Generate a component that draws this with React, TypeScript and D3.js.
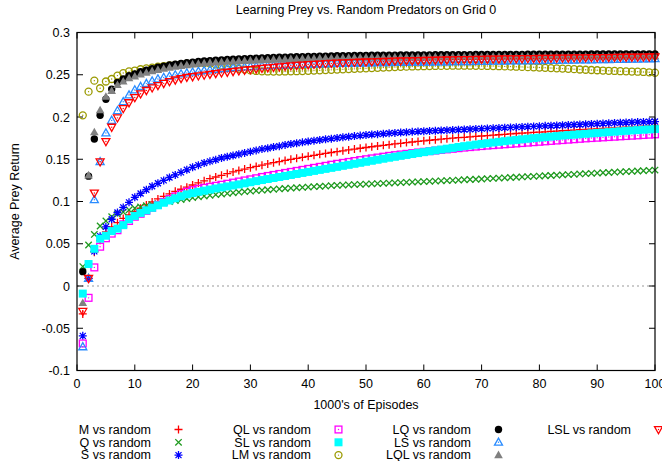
import * as d3 from "d3";

// 1000's of episodes, one sample per thousand
const episodes = d3.range(1, 101);

const mVsRandom = [
  -0.033, 0.009, 0.04, 0.054, 0.064, 0.07, 0.075, 0.08, 0.084, 0.088,
  0.092, 0.096, 0.0995, 0.103, 0.106, 0.109, 0.112, 0.1145, 0.117, 0.1195,
  0.122, 0.1245, 0.127, 0.129, 0.131, 0.133, 0.135, 0.1367, 0.1384, 0.14,
  0.1415, 0.143, 0.1445, 0.1459, 0.1473, 0.1486, 0.1499, 0.1511, 0.1523, 0.1535,
  0.1547, 0.1558, 0.1569, 0.158, 0.159, 0.16, 0.161, 0.162, 0.163, 0.1639,
  0.1648, 0.1657, 0.1665, 0.1673, 0.1681, 0.1689, 0.1697, 0.1704, 0.1711, 0.1718,
  0.1725, 0.1731, 0.1737, 0.1743, 0.1749, 0.1755, 0.176, 0.1765, 0.177, 0.1775,
  0.178, 0.1785, 0.179, 0.1795, 0.18, 0.1805, 0.1809, 0.1813, 0.1817, 0.1821,
  0.1825, 0.1829, 0.1833, 0.1837, 0.1841, 0.1845, 0.1849, 0.1853, 0.1857, 0.186,
  0.1864, 0.1868, 0.1872, 0.1876, 0.188, 0.1884, 0.1888, 0.1892, 0.1896, 0.19,
];

const qVsRandom = [
  0.023, 0.0485, 0.061, 0.071, 0.077, 0.082, 0.085, 0.0875, 0.09, 0.092,
  0.0935, 0.095, 0.0963, 0.0975, 0.0987, 0.0999, 0.1011, 0.1023, 0.1034, 0.1045,
  0.1055, 0.1064, 0.1073, 0.1081, 0.1089, 0.1096, 0.1103, 0.111, 0.1116, 0.1122,
  0.1128, 0.1134, 0.1139, 0.1144, 0.1149, 0.1154, 0.1159, 0.1163, 0.1167, 0.1171,
  0.1175, 0.1179, 0.1183, 0.1187, 0.1191, 0.1194, 0.1197, 0.12, 0.1203, 0.1206,
  0.1209, 0.1212, 0.1215, 0.1218, 0.1221, 0.1224, 0.1227, 0.123, 0.1233, 0.1236,
  0.1239, 0.1242, 0.1245, 0.1248, 0.1251, 0.1254, 0.1257, 0.126, 0.1263, 0.1266,
  0.127, 0.1273, 0.1277, 0.128, 0.1284, 0.1287, 0.1291, 0.1294, 0.1298, 0.1301,
  0.1305, 0.1308, 0.1312, 0.1315, 0.1319, 0.1322, 0.1326, 0.1329, 0.1333, 0.1336,
  0.134, 0.1343, 0.1347, 0.135, 0.1354, 0.1357, 0.1361, 0.1364, 0.1368, 0.1372,
];

const sVsRandom = [
  -0.059, 0.009, 0.041, 0.059, 0.07, 0.079, 0.087, 0.093, 0.099, 0.105,
  0.1095, 0.114, 0.118, 0.1215, 0.125, 0.1285, 0.1315, 0.1345, 0.1375, 0.1405,
  0.143, 0.1455, 0.1475, 0.1495, 0.1515, 0.153, 0.1545, 0.156, 0.1575, 0.159,
  0.1605, 0.162, 0.163, 0.1645, 0.1655, 0.167, 0.168, 0.169, 0.17, 0.171,
  0.172, 0.1728, 0.1736, 0.1744, 0.1752, 0.176, 0.1767, 0.1774, 0.178, 0.1786,
  0.1792, 0.1797, 0.1802, 0.1807, 0.1812, 0.1816, 0.182, 0.1824, 0.1828, 0.1832,
  0.1835, 0.1838, 0.1841, 0.1844, 0.1847, 0.185, 0.1853, 0.1856, 0.1859, 0.1862,
  0.1865, 0.1868, 0.1871, 0.1874, 0.1877, 0.188, 0.1883, 0.1886, 0.1889, 0.1892,
  0.1895, 0.1897, 0.19, 0.1903, 0.1906, 0.1909, 0.1912, 0.1915, 0.1918, 0.1921,
  0.1924, 0.1927, 0.193, 0.1932, 0.1935, 0.1937, 0.194, 0.1942, 0.1944, 0.1946,
];

const qlVsRandom = [
  -0.068, -0.014, 0.022, 0.0465, 0.0565, 0.062, 0.066, 0.073, 0.077, 0.082,
  0.0855, 0.089, 0.0925, 0.096, 0.0995, 0.103, 0.106, 0.109, 0.1115, 0.1135,
  0.115, 0.1162, 0.1174, 0.1186, 0.1198, 0.121, 0.1223, 0.1236, 0.1249, 0.1262,
  0.1275, 0.129, 0.1302, 0.1314, 0.1326, 0.1338, 0.135, 0.1362, 0.1374, 0.1386,
  0.1398, 0.141, 0.1422, 0.1435, 0.1446, 0.1457, 0.1468, 0.1479, 0.149, 0.15,
  0.151, 0.152, 0.153, 0.154, 0.1548, 0.1556, 0.1564, 0.1572, 0.158, 0.1588,
  0.1596, 0.1603, 0.161, 0.1617, 0.1624, 0.1631, 0.1638, 0.1644, 0.165, 0.1656,
  0.1662, 0.1667, 0.1672, 0.1677, 0.1682, 0.1687, 0.1692, 0.1697, 0.1702, 0.1707,
  0.1712, 0.1717, 0.1722, 0.1727, 0.1732, 0.1737, 0.1742, 0.1747, 0.1751, 0.1755,
  0.1759, 0.1763, 0.1767, 0.1771, 0.1775, 0.1779, 0.1783, 0.1787, 0.1791, 0.1795,
];

const slVsRandom = [
  -0.009, 0.026, 0.044, 0.056, 0.0595, 0.065, 0.068, 0.072, 0.079, 0.083,
  0.0865, 0.0895, 0.0925, 0.0955, 0.0985, 0.1012, 0.1038, 0.1062, 0.1085, 0.11,
  0.1115, 0.1128, 0.1141, 0.1154, 0.1166, 0.1178, 0.119, 0.1202, 0.1215, 0.1228,
  0.1241, 0.1254, 0.1266, 0.1278, 0.129, 0.1302, 0.1314, 0.1326, 0.1338, 0.135,
  0.1362, 0.1374, 0.1386, 0.1398, 0.141, 0.1422, 0.1434, 0.1446, 0.1458, 0.147,
  0.1482, 0.1494, 0.1506, 0.1518, 0.1529, 0.154, 0.1551, 0.1562, 0.1573, 0.1584,
  0.1595, 0.1605, 0.1615, 0.1625, 0.1635, 0.1645, 0.1655, 0.1664, 0.1673, 0.1682,
  0.169, 0.1698, 0.1706, 0.1714, 0.1722, 0.1729, 0.1736, 0.1743, 0.175, 0.1756,
  0.1762, 0.1768, 0.1774, 0.178, 0.1786, 0.1791, 0.1796, 0.1801, 0.1806, 0.1811,
  0.1816, 0.1821, 0.1826, 0.1831, 0.1836, 0.1841, 0.1845, 0.1849, 0.1853, 0.1857,
];

const lmVsRandom = [
  0.202, 0.23, 0.243, 0.234, 0.242, 0.245, 0.249, 0.252, 0.254, 0.255,
  0.2565, 0.2575, 0.2585, 0.2595, 0.2603, 0.261, 0.2618, 0.2625, 0.263, 0.2635,
  0.2638, 0.2637, 0.2632, 0.2622, 0.261, 0.2597, 0.2584, 0.2571, 0.256, 0.2551,
  0.2545, 0.2541, 0.2539, 0.2538, 0.2538, 0.2539, 0.254, 0.2542, 0.2544, 0.2546,
  0.2549, 0.2552, 0.2555, 0.2558, 0.2561, 0.2564, 0.2567, 0.257, 0.2573, 0.2576,
  0.2579, 0.2582, 0.2585, 0.2588, 0.2591, 0.2594, 0.2596, 0.2598, 0.26, 0.2601,
  0.2603, 0.2604, 0.2605, 0.2606, 0.2607, 0.2607, 0.2607, 0.2607, 0.2606, 0.2605,
  0.2604, 0.2603, 0.2601, 0.2599, 0.2597, 0.2595, 0.2593, 0.259, 0.2588, 0.2585,
  0.2582, 0.2579, 0.2576, 0.2573, 0.257, 0.2566, 0.2562, 0.2559, 0.2556, 0.2553,
  0.255, 0.2547, 0.2545, 0.2542, 0.254, 0.2538, 0.2536, 0.2533, 0.2529, 0.2524,
];

const lqVsRandom = [
  0.017, 0.13, 0.174, 0.202, 0.221, 0.233, 0.241, 0.245, 0.249, 0.251,
  0.2535, 0.2555, 0.2572, 0.2588, 0.2602, 0.2615, 0.2625, 0.2635, 0.2643, 0.265,
  0.2656, 0.2662, 0.2667, 0.2672, 0.2676, 0.268, 0.2684, 0.2688, 0.2691, 0.2694,
  0.2697, 0.27, 0.2702, 0.2705, 0.2707, 0.2709, 0.2711, 0.2713, 0.2715, 0.2717,
  0.2718, 0.272, 0.2721, 0.2722, 0.2724, 0.2725, 0.2726, 0.2727, 0.2728, 0.2729,
  0.273, 0.273, 0.2731, 0.2731, 0.2732, 0.2733, 0.2733, 0.2734, 0.2734, 0.2735,
  0.2735, 0.2736, 0.2736, 0.2737, 0.2737, 0.2737, 0.2738, 0.2738, 0.2739, 0.2739,
  0.2739, 0.274, 0.274, 0.274, 0.2741, 0.2741, 0.2741, 0.2742, 0.2742, 0.2742,
  0.2743, 0.2743, 0.2743, 0.2743, 0.2744, 0.2744, 0.2744, 0.2744, 0.2745, 0.2745,
  0.2745, 0.2745, 0.2746, 0.2746, 0.2746, 0.2746, 0.2747, 0.2747, 0.2747, 0.2747,
];

const lsVsRandom = [
  -0.072, 0.009, 0.102, 0.147, 0.181, 0.196, 0.2075, 0.218, 0.226, 0.232,
  0.236, 0.2395, 0.2425, 0.245, 0.2468, 0.2483, 0.2497, 0.251, 0.2521, 0.2531,
  0.254, 0.2549, 0.2557, 0.2564, 0.257, 0.2576, 0.2582, 0.2587, 0.2592, 0.2596,
  0.26, 0.2604, 0.2607, 0.261, 0.2613, 0.2616, 0.2618, 0.2621, 0.2623, 0.2625,
  0.2627, 0.2629, 0.263, 0.2632, 0.2633, 0.2635, 0.2636, 0.2637, 0.2638, 0.264,
  0.2641, 0.2642, 0.2643, 0.2644, 0.2645, 0.2646, 0.2647, 0.2648, 0.2648, 0.2649,
  0.265, 0.2651, 0.2652, 0.2652, 0.2653, 0.2654, 0.2655, 0.2655, 0.2656, 0.2657,
  0.2658, 0.2659, 0.266, 0.2661, 0.2662, 0.2663, 0.2664, 0.2665, 0.2666, 0.2667,
  0.2668, 0.2669, 0.267, 0.2671, 0.2672, 0.2673, 0.2674, 0.2675, 0.2676, 0.2677,
  0.2678, 0.2679, 0.268, 0.2681, 0.2682, 0.2683, 0.2684, 0.2686, 0.2688, 0.269,
];

const lqlVsRandom = [
  -0.02, 0.131, 0.182, 0.208, 0.224, 0.231, 0.238, 0.242, 0.246, 0.248,
  0.2505, 0.2525, 0.2543, 0.2558, 0.2572, 0.2585, 0.2596, 0.2606, 0.2615, 0.2623,
  0.263, 0.2636, 0.2641, 0.2646, 0.265, 0.2654, 0.2658, 0.2662, 0.2665, 0.2668,
  0.2671, 0.2674, 0.2676, 0.2679, 0.2681, 0.2683, 0.2685, 0.2687, 0.2689, 0.2691,
  0.2692, 0.2694, 0.2695, 0.2696, 0.2698, 0.2699, 0.27, 0.2701, 0.2702, 0.2703,
  0.2704, 0.2704, 0.2705, 0.2705, 0.2706, 0.2707, 0.2707, 0.2708, 0.2708, 0.2709,
  0.2709, 0.271, 0.271, 0.2711, 0.2711, 0.2711, 0.2712, 0.2712, 0.2712, 0.2713,
  0.2713, 0.2713, 0.2714, 0.2714, 0.2714, 0.2714, 0.2715, 0.2715, 0.2715, 0.2715,
  0.2716, 0.2716, 0.2716, 0.2716, 0.2717, 0.2717, 0.2717, 0.2717, 0.2717, 0.2718,
  0.2718, 0.2718, 0.2718, 0.2718, 0.2719, 0.2719, 0.2719, 0.2719, 0.2719, 0.272,
];

const lslVsRandom = [
  -0.03, 0.009, 0.11, 0.147, 0.171, 0.188, 0.199, 0.21, 0.217, 0.223,
  0.2275, 0.2315, 0.2345, 0.2373, 0.2398, 0.242, 0.2439, 0.2456, 0.2471, 0.2478,
  0.2488, 0.2497, 0.2506, 0.2515, 0.2523, 0.2531, 0.2539, 0.2547, 0.2555, 0.2562,
  0.2569, 0.2576, 0.2583, 0.2589, 0.2595, 0.2601, 0.2606, 0.2611, 0.2616, 0.262,
  0.2624, 0.2628, 0.2632, 0.2635, 0.2638, 0.2641, 0.2644, 0.2647, 0.2649, 0.2652,
  0.2654, 0.2656, 0.2658, 0.266, 0.2662, 0.2664, 0.2666, 0.2667, 0.2669, 0.267,
  0.2672, 0.2673, 0.2675, 0.2676, 0.2677, 0.2679, 0.268, 0.2681, 0.2682, 0.2684,
  0.2685, 0.2686, 0.2687, 0.2688, 0.2689, 0.269, 0.2691, 0.2692, 0.2693, 0.2694,
  0.2695, 0.2696, 0.2697, 0.2698, 0.2699, 0.27, 0.2701, 0.2702, 0.2703, 0.2703,
  0.2704, 0.2705, 0.2706, 0.2707, 0.2708, 0.2708, 0.2709, 0.271, 0.2711, 0.2712,
];

const xTicks = [0, 10, 20, 30, 40, 50, 60, 70, 80, 90, 100];
const yTicks = [-0.1, -0.05, 0, 0.05, 0.1, 0.15, 0.2, 0.25, 0.3];
const yTickLabels = ["-0.1", "-0.05", "0", "0.05", "0.1", "0.15", "0.2", "0.25", "0.3"];

type Shape = "plus" | "cross" | "star" | "box" | "boxFill" | "circle" | "circleFill" | "tri" | "triFill" | "triDown";

const series: { name: string; values: number[]; color: string; shape: Shape }[] = [
  { name: "M vs random", values: mVsRandom, color: "#ff0000", shape: "plus" },
  { name: "Q vs random", values: qVsRandom, color: "#1f9a1f", shape: "cross" },
  { name: "S vs random", values: sVsRandom, color: "#0000ff", shape: "star" },
  { name: "QL vs random", values: qlVsRandom, color: "#ff00ff", shape: "box" },
  { name: "SL vs random", values: slVsRandom, color: "#00ffff", shape: "boxFill" },
  { name: "LM vs random", values: lmVsRandom, color: "#9a9a00", shape: "circle" },
  { name: "LQ vs random", values: lqVsRandom, color: "#000000", shape: "circleFill" },
  { name: "LS vs random", values: lsVsRandom, color: "#2a8cff", shape: "tri" },
  { name: "LQL vs random", values: lqlVsRandom, color: "#808080", shape: "triFill" },
  { name: "LSL vs random", values: lslVsRandom, color: "#ff0000", shape: "triDown" },
];

const W = 662, H = 461;
const left = 77, right = 655, top = 32.5, bottom = 370.5;
const font = "'Liberation Sans', Arial, sans-serif";

const x = d3.scaleLinear().domain([0, 100]).range([left, right]);
const y = d3.scaleLinear().domain([-0.1, 0.3]).range([bottom, top]);

function Marker({ cx, cy, shape, color }: { cx: number; cy: number; shape: Shape; color: string }) {
  const t = `translate(${cx},${cy})`;
  const sw = 1.3;
  const dot = <circle r={0.7} fill={color} />;
  switch (shape) {
    case "plus":
      return <path transform={t} d="M-4,0H4M0,-4V4" stroke={color} strokeWidth={sw} fill="none" />;
    case "cross":
      return <path transform={t} d="M-3.2,-3.2L3.2,3.2M-3.2,3.2L3.2,-3.2" stroke={color} strokeWidth={sw} fill="none" />;
    case "star":
      return <path transform={t} d="M-4,0H4M0,-4V4M-3,-3L3,3M-3,3L3,-3" stroke={color} strokeWidth={sw} fill="none" />;
    case "box":
      return (
        <g transform={t}>
          <rect x={-3.4} y={-3.4} width={6.8} height={6.8} stroke={color} strokeWidth={sw} fill="none" />
          {dot}
        </g>
      );
    case "boxFill":
      return <rect transform={t} x={-4} y={-4} width={8} height={8} fill={color} />;
    case "circle":
      return (
        <g transform={t}>
          <circle r={3.5} stroke={color} strokeWidth={sw} fill="none" />
          {dot}
        </g>
      );
    case "circleFill":
      return <circle transform={t} r={3.7} fill={color} />;
    case "tri":
      return (
        <g transform={t}>
          <path d="M0,-4.2L4,2.9H-4Z" stroke={color} strokeWidth={sw} fill="none" />
          {dot}
        </g>
      );
    case "triFill":
      return <path transform={t} d="M0,-4.5L4.3,3.1H-4.3Z" fill={color} />;
    case "triDown":
      return (
        <g transform={t}>
          <path d="M0,4.2L4,-2.9H-4Z" stroke={color} strokeWidth={sw} fill="none" />
          {dot}
        </g>
      );
  }
}

export default function App() {
  return (
    <svg width={W} height={H} style={{ position: "absolute", left: 0, top: 0, background: "#fff" }} fontFamily={font}>
      <rect width={W} height={H} fill="#fff" />
      <text x={(left + right) / 2} y={14} textAnchor="middle" fontSize={12.5}>
        Learning Prey vs. Random Predators on Grid 0
      </text>

      {/* zero line */}
      <line x1={left} x2={right} y1={y(0)} y2={y(0)} stroke="#999" strokeWidth={1} strokeDasharray="2,3" />

      {/* ticks */}
      {yTicks.map((v, i) => (
        <g key={"y" + i}>
          <line x1={left} x2={left + 6} y1={y(v)} y2={y(v)} stroke="#000" />
          <line x1={right - 6} x2={right} y1={y(v)} y2={y(v)} stroke="#000" />
          <text x={70} y={y(v) + 4.5} textAnchor="end" fontSize={12.5}>
            {yTickLabels[i]}
          </text>
        </g>
      ))}
      {xTicks.map((v) => (
        <g key={"x" + v}>
          <line x1={x(v)} x2={x(v)} y1={bottom} y2={bottom - 6} stroke="#000" />
          <line x1={x(v)} x2={x(v)} y1={top} y2={top + 6} stroke="#000" />
          <text x={x(v)} y={bottom + 17} textAnchor="middle" fontSize={12.5}>
            {v}
          </text>
        </g>
      ))}

      {/* points */}
      <g>
        {series.map((s) =>
          s.values.map((v, i) => (
            <Marker key={s.name + i} cx={x(episodes[i])} cy={y(v)} shape={s.shape} color={s.color} />
          ))
        )}
      </g>

      <rect x={left} y={top} width={right - left} height={bottom - top} fill="none" stroke="#000" strokeWidth={1.2} />

      <text x={(left + right) / 2} y={409} textAnchor="middle" fontSize={12.5}>
        1000's of Episodes
      </text>
      <text transform={`translate(19,${(top + bottom) / 2}) rotate(-90)`} textAnchor="middle" fontSize={12.5}>
        Average Prey Return
      </text>

      {/* legend */}
      {series.map((s, i) => {
        const col = Math.floor(i / 3);
        const row = i % 3;
        const tx = 151 + col * 160;
        const ty = 429.5 + row * 12.8;
        return (
          <g key={"lg" + s.name}>
            <text x={tx} y={ty + 4.3} textAnchor="end" fontSize={12.5}>
              {s.name}
            </text>
            <Marker cx={tx + 27.5} cy={ty} shape={s.shape} color={s.color} />
          </g>
        );
      })}
    </svg>
  );
}
